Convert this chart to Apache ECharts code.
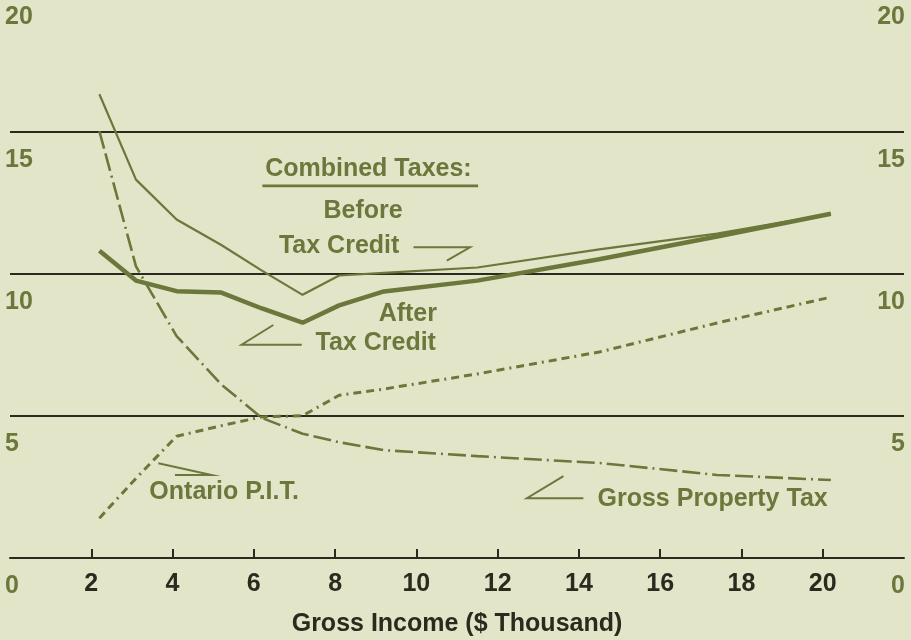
<!DOCTYPE html>
<html>
<head>
<meta charset="utf-8">
<script src="https://cdn.jsdelivr.net/npm/echarts@6/dist/echarts.min.js"></script>
<style>
html,body{margin:0;padding:0;background:#e3e5c8;}
#c{width:911px;height:640px;}
</style>
</head>
<body>
<div id="c"></div>
<script>
// ---- data ----
const incomeTicks = [2, 4, 6, 8, 10, 12, 14, 16, 18, 20];
const percentTicks = [0, 5, 10, 15, 20];
const income      = [2.2, 3.1, 4.1, 5.2, 6.2, 7.2, 8.1, 9.2, 11.5, 14.5, 17.4, 20.2];
const beforeCredit = [16.3, 13.3, 11.9, 11.0, 10.1, 9.25, 9.93, 10.02, 10.21, 10.85, 11.4, 12.1];
const afterCredit  = [10.8, 9.75, 9.38, 9.33, 8.77, 8.27, 8.88, 9.37, 9.75, 10.5, 11.3, 12.1];
const propertyTax  = [15.0, 10.25, 7.8, 6.1, 4.92, 4.37, 4.07, 3.79, 3.58, 3.34, 2.92, 2.74];
const ontarioPIT   = [1.4, 2.8, 4.28, 4.65, 4.96, 5.0, 5.72, 5.94, 6.47, 7.24, 8.26, 9.17];

// ---- styles ----
const OLIVE = '#6c773b', DARK = '#2a2a1f', BG = '#e3e5c8';
const FONT = '"Liberation Sans", Arial, sans-serif';

const chart = echarts.init(document.getElementById('c'), null, {renderer: 'canvas'});
const pairs = ys => income.map((x, i) => [x, ys[i]]);

const yAxisBase = {
  type: 'value', min: 0, max: 20, interval: 5,
  axisLine: {show: false}, axisTick: {show: false}
};

chart.setOption({
  backgroundColor: BG,
  animation: false,
  grid: {left: 10, right: 7, top: -11, bottom: 82, outerBoundsMode: 'none', containLabel: false},
  xAxis: {
    type: 'value', min: 0, max: 22, interval: 2,
    axisLine: {show: true, onZero: false, lineStyle: {color: DARK, width: 2}},
    axisTick: {show: true, inside: true, length: 9, customValues: incomeTicks, lineStyle: {color: DARK, width: 2}},
    axisLabel: {customValues: incomeTicks, margin: 14, color: DARK, fontSize: 25, fontWeight: 'bold', fontFamily: FONT},
    splitLine: {show: false},
    name: 'Gross Income ($ Thousand)', nameLocation: 'middle', nameGap: 54,
    nameTextStyle: {color: DARK, fontSize: 25, fontWeight: 'bold', fontFamily: FONT}
  },
  yAxis: [
    Object.assign({}, yAxisBase, {
      position: 'left',
      axisLabel: {align: 'left', margin: 5, verticalAlign: 'top', padding: [16, 0, 0, 0],
        color: OLIVE, fontSize: 25, fontWeight: 'bold', fontFamily: FONT, customValues: percentTicks},
      splitLine: {show: true, lineStyle: {color: DARK, width: 2}}
    }),
    Object.assign({}, yAxisBase, {
      position: 'right',
      axisLabel: {align: 'right', margin: 1, verticalAlign: 'top', padding: [16, 0, 0, 0],
        color: OLIVE, fontSize: 25, fontWeight: 'bold', fontFamily: FONT, customValues: percentTicks},
      splitLine: {show: false}
    })
  ],
  series: [
    {name: 'Before Tax Credit', type: 'line', data: pairs(beforeCredit), symbol: 'none',
      lineStyle: {color: OLIVE, width: 2.2}},
    {name: 'After Tax Credit', type: 'line', data: pairs(afterCredit), symbol: 'none',
      lineStyle: {color: OLIVE, width: 4.5}},
    {name: 'Gross Property Tax', type: 'line', data: pairs(propertyTax), symbol: 'none',
      lineStyle: {color: OLIVE, width: 2.6, type: [18, 5, 18, 5, 2, 5]}},
    {name: 'Ontario P.I.T.', type: 'line', data: pairs(ontarioPIT), symbol: 'none',
      lineStyle: {color: OLIVE, width: 3, type: [8, 5, 8, 5, 2, 5]}}
  ]
});

// ---- annotations (positions in data coordinates) ----
const labels = [
  {text: 'Combined Taxes:', at: [8.82, 13.68]},
  {text: 'Before', at: [8.69, 12.19]},
  {text: 'Tax Credit', at: [8.10, 10.98]},
  {text: 'After', at: [9.79, 8.58]},
  {text: 'Tax Credit', at: [9.00, 7.54]},
  {text: 'Ontario P.I.T.', at: [5.27, 2.33]},
  {text: 'Gross Property Tax', at: [17.29, 2.07]}
];
const leaders = [
  [[6.21, 13.08], [11.52, 13.08]],
  [[9.93, 10.92], [11.32, 10.92], [10.75, 10.45]],
  [[7.18, 7.50], [5.70, 7.50], [6.48, 8.19]],
  [[4.06, 2.92], [4.96, 2.92], [3.65, 3.33]],
  [[14.11, 2.10], [12.72, 2.10], [13.62, 2.88]]
];
const px = p => chart.convertToPixel({gridIndex: 0}, p);
const graphic = [];
labels.forEach(l => {
  const p = px(l.at);
  graphic.push({type: 'text', x: p[0], y: p[1], silent: true,
    style: {text: l.text, fill: OLIVE, font: 'bold 25px ' + FONT,
      align: 'center', verticalAlign: 'middle', textAlign: 'center', textVerticalAlign: 'middle'}});
});
leaders.forEach((pts, i) => {
  graphic.push({type: 'polyline', silent: true,
    shape: {points: pts.map(px)},
    style: {stroke: OLIVE, lineWidth: i === 0 ? 2.6 : 2, fill: null}});
});
chart.setOption({graphic: graphic});
</script>
</body>
</html>
